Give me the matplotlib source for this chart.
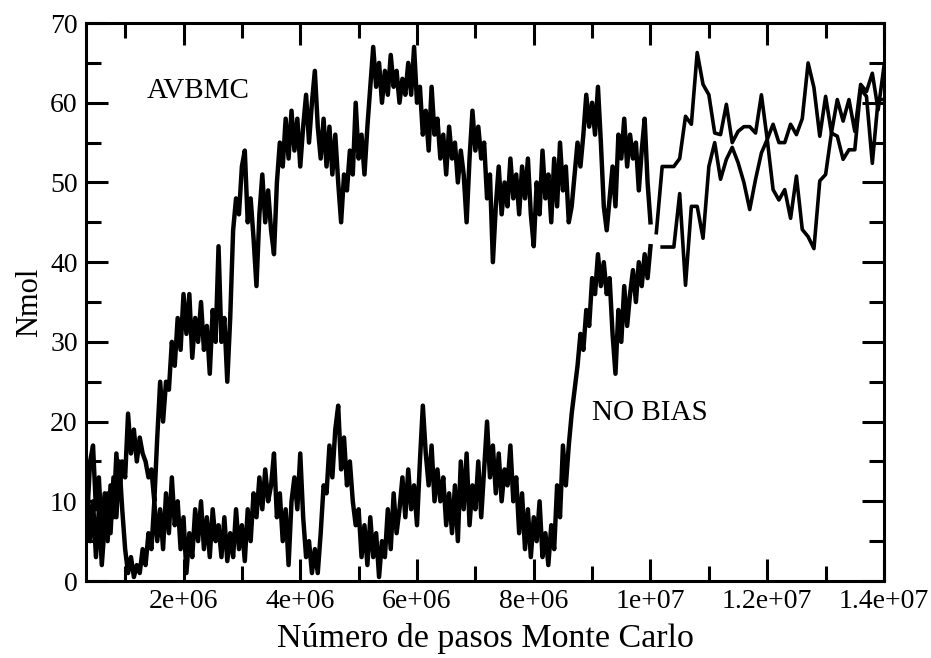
import numpy as np
import matplotlib.pyplot as plt
from matplotlib.ticker import MultipleLocator

plt.rcParams["font.family"] = ["Liberation Serif", "DejaVu Serif"]

# Monte Carlo steps (in millions) for the densely sampled part of both runs
mc_dense = [
    0.35, 0.40, 0.45, 0.50, 0.55, 0.60, 0.65, 0.70, 0.75, 0.80,
    0.85, 0.90, 0.95, 1.00, 1.05, 1.10, 1.15, 1.20, 1.25, 1.30,
    1.35, 1.40, 1.45, 1.50, 1.55, 1.60, 1.65, 1.70, 1.75, 1.80,
    1.85, 1.90, 1.95, 2.00, 2.05, 2.10, 2.15, 2.20, 2.25, 2.30,
    2.35, 2.40, 2.45, 2.50, 2.55, 2.60, 2.65, 2.70, 2.75, 2.80,
    2.85, 2.90, 2.95, 3.00, 3.05, 3.10, 3.15, 3.20, 3.25, 3.30,
    3.35, 3.40, 3.45, 3.50, 3.55, 3.60, 3.65, 3.70, 3.75, 3.80,
    3.85, 3.90, 3.95, 4.00, 4.05, 4.10, 4.15, 4.20, 4.25, 4.30,
    4.35, 4.40, 4.45, 4.50, 4.55, 4.60, 4.65, 4.70, 4.75, 4.80,
    4.85, 4.90, 4.95, 5.00, 5.05, 5.10, 5.15, 5.20, 5.25, 5.30,
    5.35, 5.40, 5.45, 5.50, 5.55, 5.60, 5.65, 5.70, 5.75, 5.80,
    5.85, 5.90, 5.95, 6.00, 6.05, 6.10, 6.15, 6.20, 6.25, 6.30,
    6.35, 6.40, 6.45, 6.50, 6.55, 6.60, 6.65, 6.70, 6.75, 6.80,
    6.85, 6.90, 6.95, 7.00, 7.05, 7.10, 7.15, 7.20, 7.25, 7.30,
    7.35, 7.40, 7.45, 7.50, 7.55, 7.60, 7.65, 7.70, 7.75, 7.80,
    7.85, 7.90, 7.95, 8.00, 8.05, 8.10, 8.15, 8.20, 8.25, 8.30,
    8.35, 8.40, 8.45, 8.50, 8.55, 8.60, 8.65, 8.70, 8.75, 8.80,
    8.85, 8.90, 8.95, 9.00, 9.05, 9.10, 9.15, 9.20, 9.25, 9.30,
    9.35, 9.40, 9.45, 9.50, 9.55, 9.60, 9.65, 9.70, 9.75, 9.80,
    9.85, 9.90, 9.95, 10.00,
]

avbmc_dense = [
    8, 15, 17, 9, 13, 6, 11, 5, 12, 8,
    16, 11, 15, 13, 21, 16, 19, 15, 18, 16,
    15, 13, 14, 10, 18, 25, 20, 25, 24, 30,
    27, 33, 29, 36, 31, 36, 28, 33, 30, 35,
    29, 32, 26, 34, 30, 42, 30, 33, 25, 33,
    44, 48, 46, 52, 54, 45, 48, 43, 37, 46,
    51, 45, 49, 44, 41, 50, 55, 52, 58, 53,
    59, 54, 58, 52, 57, 61, 55, 60, 64, 57,
    53, 58, 52, 57, 51, 56, 50, 45, 51, 49,
    54, 51, 60, 53, 56, 51, 57, 62, 67, 62,
    65, 60, 64, 61, 66, 62, 64, 60, 63, 61,
    65, 61, 67, 60, 62, 56, 59, 54, 62, 56,
    58, 53, 56, 51, 57, 53, 55, 50, 54, 51,
    45, 53, 59, 54, 57, 53, 55, 48, 51, 40,
    47, 52, 46, 50, 47, 53, 48, 51, 46, 52,
    48, 53, 46, 42, 50, 46, 54, 48, 51, 45,
    53, 47, 55, 49, 52, 45, 47, 51, 55, 52,
    56, 61, 57, 60, 56, 62, 55, 47, 44, 48,
    52, 47, 56, 53, 58, 52, 56, 53, 55, 49,
    54, 58, 50, 45,
]

nobias_dense = [
    12, 5, 10, 3, 9, 2, 7, 11, 6, 13,
    8, 15, 9, 4, 1, 3, 0.5, 2, 1, 4,
    2, 6, 4, 10, 5, 9, 4, 11, 6, 13,
    7, 10, 4, 8, 1, 6, 3, 9, 5, 10,
    4, 8, 3, 9, 5, 7, 3, 8, 2.5, 6,
    3, 9, 4, 7, 2.5, 9, 5, 11, 8, 13,
    9, 14, 10, 12, 16, 8, 11, 5, 9, 2,
    10, 13, 9, 16, 8, 3, 5, 1, 4, 1,
    6, 12, 11, 17, 13, 19, 22, 14, 18, 12,
    15, 10, 7, 9, 3, 7, 2, 8, 3, 6,
    0.5, 5, 3, 9, 4, 11, 6, 9, 13, 8,
    14, 9, 12, 7, 15, 22, 16, 12, 17, 10,
    14, 10, 13, 7, 11, 6, 12, 5, 15, 9,
    16, 7, 12, 9, 15, 8, 14, 20, 13, 17,
    11, 16, 10, 14, 12, 17, 10, 13, 6, 11,
    4, 9, 3, 8, 5, 10, 3, 6, 2, 7,
    4, 12, 8, 17, 12, 17, 21, 24, 27, 31,
    29, 34, 32, 38, 36, 41, 37, 40, 36, 38,
    31, 26, 34, 30, 37, 32, 36, 39, 35, 40,
    37, 41, 38, 42,
]

# sparsely sampled continuation after 1e7 steps
mc_avbmc_tail = [
    10.1, 10.2, 10.3, 10.4, 10.5, 10.6, 10.7, 10.8, 10.9, 11.0,
    11.1, 11.2, 11.3, 11.4, 11.5, 11.6, 11.7, 11.8, 11.9, 12.0,
    12.1, 12.2, 12.3, 12.4, 12.5, 12.6, 12.7, 12.8, 12.9, 13.0,
    13.1, 13.2, 13.3, 13.4, 13.5, 13.6, 13.7, 13.8, 13.9, 14.0,
]
avbmc_tail = [
    43.7, 52, 52, 52, 53, 58.3, 57.3, 66.3, 62.3, 61,
    56.2, 56, 59.8, 55, 56.4, 57, 57, 56.2, 61, 55.4,
    57.3, 55, 55, 57.3, 56, 58, 65, 61.9, 55.8, 60.8,
    56.2, 60.4, 57.7, 60.4, 56.4, 62.3, 61.4, 63.7, 59.1, 64.6,
]

mc_nobias_tail = [
    10.2, 10.3, 10.4, 10.5, 10.6, 10.7, 10.8, 10.9, 11.0,
    11.1, 11.2, 11.3, 11.4, 11.5, 11.6, 11.7, 11.8, 11.9, 12.0,
    12.1, 12.2, 12.3, 12.4, 12.5, 12.6, 12.7, 12.8, 12.9, 13.0,
    13.1, 13.2, 13.3, 13.4, 13.5, 13.6, 13.7, 13.8, 13.9, 14.0,
]
nobias_tail = [
    41.9, 41.9, 41.9, 48.6, 37.1, 47, 47, 43, 52,
    55, 50.4, 52.9, 54.4, 52.5, 50, 46.6, 50.4, 53.7, 55.4,
    49.1, 47.8, 49.1, 45.5, 50.8, 44.1, 43.2, 41.7, 50.2, 51,
    56.2, 55.8, 52.9, 54.1, 54.1, 61.7, 60.8, 52.4, 60.4, 60.4,
]

xtick_vals = [2e6, 4e6, 6e6, 8e6, 1e7, 1.2e7, 1.4e7]
xtick_labels = ["2e+06", "4e+06", "6e+06", "8e+06", "1e+07", "1.2e+07", "1.4e+07"]

fig = plt.figure(figsize=(9.31, 6.58), dpi=100)
ax = fig.add_axes([0.0924, 0.117, 0.8571, 0.848])

# the dense part is drawn a bit heavier so the noisy band fills in like the original
ax.plot(np.array(mc_dense) * 1e6, avbmc_dense, color="black", lw=3.2)
ax.plot(np.array(mc_dense) * 1e6, nobias_dense, color="black", lw=3.2)
ax.plot(np.array(mc_avbmc_tail) * 1e6, avbmc_tail, color="black", lw=2.6)
ax.plot(np.array(mc_nobias_tail) * 1e6, nobias_tail, color="black", lw=2.6)

ax.text(1.37e6, 60.6, "AVBMC", fontsize=21)
ax.text(9.0e6, 20.2, "NO BIAS", fontsize=21)

ax.set_xlim(0.33e6, 1.4e7)
ax.set_ylim(0, 70)
ax.set_xticks(xtick_vals)
ax.set_xticklabels(xtick_labels)
ax.xaxis.set_minor_locator(MultipleLocator(1e6))
ax.yaxis.set_major_locator(MultipleLocator(10))
ax.yaxis.set_minor_locator(MultipleLocator(5))

ax.tick_params(which="both", direction="in", top=True, right=True, width=2.2)
ax.tick_params(which="major", length=16, labelsize=20, pad=6)
ax.tick_params(which="minor", length=11)
for s in ax.spines.values():
    s.set_linewidth(2.2)

ax.set_xlabel("Número de pasos Monte Carlo", fontsize=24.5, labelpad=6)
ax.set_ylabel("Nmol", fontsize=22)

fig.savefig("out.png", dpi=100)
